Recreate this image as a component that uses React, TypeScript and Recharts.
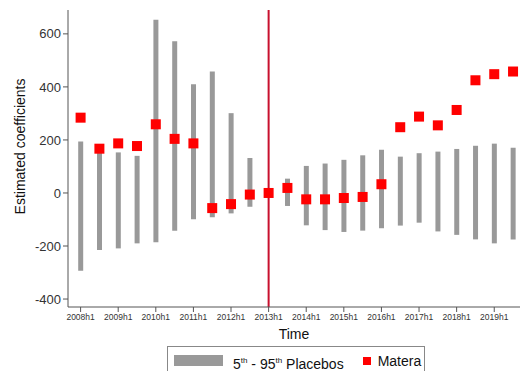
import {
  ComposedChart,
  Bar,
  Scatter,
  XAxis,
  YAxis,
  ReferenceLine,
} from "recharts"

const periods = [
  "2008h1", "2008h2", "2009h1", "2009h2", "2010h1", "2010h2", "2011h1", "2011h2",
  "2012h1", "2012h2", "2013h1", "2013h2", "2014h1", "2014h2", "2015h1", "2015h2",
  "2016h1", "2016h2", "2017h1", "2017h2", "2018h1", "2018h2", "2019h1", "2019h2",
]
const tickLabels = [
  "2008h1", "2009h1", "2010h1", "2011h1", "2012h1", "2013h1",
  "2014h1", "2015h1", "2016h1", "2017h1", "2018h1", "2019h1",
]
const placeboLow = [
  -293, -215, -209, -190, -186, -142, -99, -92, -77, -52, null, -49,
  -122, -140, -147, -142, -133, -123, -112, -145, -158, -175, -190, -175,
]
const placeboHigh = [
  194, 181, 153, 140, 653, 572, 410, 458, 301, 132, null, 54,
  102, 111, 125, 142, 163, 137, 150, 156, 166, 178, 186, 171,
]
const matera = [
  284, 167, 187, 177, 259, 204, 187, -57, -42, -6, 0, 19,
  -24, -24, -19, -15, 33, 248, 288, 255, 313, 425, 448, 458,
]
const yTicks = [-400, -200, 0, 200, 400, 600]

const data = periods.map((p, i) => ({
  idx: i,
  period: p,
  range: placeboLow[i] === null ? null : [placeboLow[i], placeboHigh[i]],
  est: matera[i],
}))

const font = "'Liberation Sans', Arial, sans-serif"
const axisColor = "#555"

const Square = (props: any) => {
  const { cx, cy } = props
  return <rect x={cx - 5} y={cy - 5} width={10} height={10} fill="#ff0000" />
}

export default function App() {
  return (
    <div style={{ position: "absolute", left: 0, top: 0, width: 522, height: 371, background: "#fff", fontFamily: font }}>
      <ComposedChart
        width={522}
        height={371}
        data={data}
        margin={{ top: 10, right: 2, left: 0, bottom: 24 }}
      >
        <XAxis
          type="number"
          dataKey="idx"
          domain={[-0.67, 23.37]}
          ticks={tickLabels.map((_, i) => i * 2)}
          tickFormatter={(v) => tickLabels[v / 2]}
          interval={0}
          height={40}
          stroke={axisColor}
          tickSize={5}
          tick={{ fontSize: 8.5, fill: "#333", fontFamily: font }}
          label={{ value: "Time", position: "insideBottom", offset: 8, fontSize: 14, fill: "#111", fontFamily: font }}
        />
        <YAxis
          type="number"
          domain={[-430, 690]}
          ticks={yTicks}
          width={68}
          stroke={axisColor}
          tickSize={5}
          tick={{ fontSize: 13, fill: "#333", fontFamily: font }}
          label={{
            content: (p: any) => {
              const vb = p.viewBox
              const cx = 20
              const cy = vb.y + vb.height / 2 - 12
              return (
                <text
                  x={cx}
                  y={cy}
                  transform={`rotate(-90 ${cx} ${cy})`}
                  textAnchor="middle"
                  dominantBaseline="central"
                  fontSize={14}
                  fill="#111"
                  fontFamily={font}
                >
                  Estimated coefficients
                </text>
              )
            },
          }}
        />
        <Bar dataKey="range" barSize={5} fill="#999" isAnimationActive={false} />
        <ReferenceLine x={10} stroke="#c8102e" strokeWidth={2} />
        <Scatter dataKey="est" shape={Square} isAnimationActive={false} />
      </ComposedChart>
      <div
        style={{
          position: "absolute",
          left: 167,
          top: 346,
          width: 258,
          height: 30,
          border: "1px solid #888",
          boxSizing: "border-box",
          display: "flex",
          alignItems: "flex-start",
          paddingTop: 6,
          fontSize: 14,
          color: "#111",
          background: "#fff",
        }}
      >
        <span style={{ display: "inline-block", width: 49, height: 11, background: "#999", marginLeft: 6, marginTop: 2 }} />
        <span style={{ marginLeft: 10, lineHeight: "16px" }}>
          5<sup style={{ fontSize: 8 }}>th</sup> - 95<sup style={{ fontSize: 8 }}>th</sup> Placebos
        </span>
        <span style={{ display: "inline-block", width: 8, height: 8, background: "#ff0000", marginLeft: 19, marginTop: 4 }} />
        <span style={{ marginLeft: 7, lineHeight: "16px" }}>Matera</span>
      </div>
    </div>
  )
}
